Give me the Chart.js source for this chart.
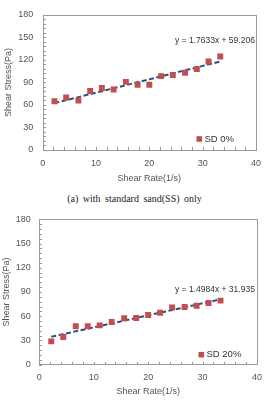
<!DOCTYPE html>
<html>
<head>
<meta charset="utf-8">
<script src="https://cdn.jsdelivr.net/npm/chart.js@4/dist/chart.umd.min.js"></script>
<style>
  html, body { margin:0; padding:0; background:#fff; width:269px; height:400px; overflow:hidden; }
  .wrap { position:absolute; left:0; width:269px; }
  #w1 { top:0; height:190px; }
  #w2 { top:205px; height:195px; }
  #cap { position:absolute; left:0; width:269px; top:193px; text-align:center;
         font-family:"Liberation Serif","Times New Roman",serif; font-size:10px; color:#222; word-spacing:2px; }
</style>
</head>
<body>
<div class="wrap" id="w1"><canvas id="c1" width="269" height="190"></canvas></div>
<div id="cap">(a) with standard sand(SS) only</div>
<div class="wrap" id="w2"><canvas id="c2" width="269" height="195"></canvas></div>
<script>
// ---- data ----
const shearRate = [2.2, 4.4, 6.7, 8.9, 11.1, 13.3, 15.6, 17.8, 20.0, 22.2, 24.4, 26.7, 28.9, 31.1, 33.3];
const stressSD0 = [64.9, 70.0, 66.0, 78.5, 82.7, 80.6, 90.8, 87.0, 87.0, 98.4, 100.0, 103.0, 108.0, 118.0, 124.7];
const stressSD20 = [28.9, 34.3, 47.5, 47.5, 48.7, 52.9, 57.4, 57.8, 61.5, 64.4, 71.0, 71.4, 73.0, 76.3, 79.3];
const trendX = [2.2, 33.3];
const trendSD0 = [62.5, 117.9];
const trendSD20 = [34.6, 80.9];
const xTicks = [0, 10, 20, 30, 40];
const yTicks = [0, 30, 60, 90, 120, 150, 180];
const eqSD0 = 'y = 1.7633x + 59.206';
const eqSD20 = 'y = 1.4984x + 31.935';
const labelSD0 = 'SD 0%';
const labelSD20 = 'SD 20%';

const RED = '#c0504d';
const BLUE = '#2d4f84';
const GREY = '#9a9a9a';
const TXT = '#555555';
const FONT = '"Liberation Sans", Arial, sans-serif';

function makeChart(id, stress, trend, eq, label, L) {
  const framePlugin = {
    id: 'frame',
    beforeDatasetsDraw(chart) {
      const ctx = chart.ctx, a = chart.chartArea;
      ctx.save();
      ctx.strokeStyle = GREY; ctx.lineWidth = 1;
      ctx.strokeRect(Math.round(a.left) + 0.5, Math.round(a.top) + 0.5,
                     Math.round(a.right - a.left), Math.round(a.bottom - a.top));
      const xs = chart.scales.x, ys = chart.scales.y;
      ctx.beginPath();
      xs.ticks.forEach(t => {
        const px = Math.round(xs.getPixelForValue(t.value)) + 0.5;
        ctx.moveTo(px, Math.round(a.bottom)); ctx.lineTo(px, Math.round(a.bottom) - 3);
      });
      ys.ticks.forEach(t => {
        const py = Math.round(ys.getPixelForValue(t.value)) + 0.5;
        ctx.moveTo(Math.round(a.left), py); ctx.lineTo(Math.round(a.left) + 3, py);
      });
      ctx.stroke();
      ctx.restore();
    },
    afterDraw(chart) {
      const ctx = chart.ctx;
      ctx.save();
      ctx.fillStyle = '#333';
      ctx.font = '8.5px ' + FONT;
      ctx.textBaseline = 'middle';
      ctx.textAlign = 'left';
      ctx.fillText(eq, L.eqX, L.eqY);
      ctx.fillStyle = RED;
      ctx.fillRect(L.legX, L.legY - 2.8, 5.6, 5.6);
      ctx.fillStyle = '#333';
      ctx.font = '9.5px ' + FONT;
      ctx.fillText(label, L.legX + 8, L.legY);
      ctx.restore();
    }
  };
  return new Chart(document.getElementById(id), {
    type: 'scatter',
    data: {
      datasets: [
        {
          label: label,
          data: shearRate.map((x, i) => ({ x: x, y: stress[i] })),
          pointStyle: 'rect',
          pointRadius: 4.2,
          pointHoverRadius: 4.2,
          backgroundColor: RED,
          borderColor: RED,
          borderWidth: 0,
          showLine: false
        },
        {
          label: 'trend',
          data: trendX.map((x, i) => ({ x: x, y: trend[i] })),
          showLine: true,
          borderColor: BLUE,
          borderWidth: 2,
          borderDash: [5, 2.5],
          pointRadius: 0,
          fill: false
        }
      ]
    },
    options: {
      responsive: false,
      animation: false,
      events: [],
      layout: { padding: { left: 0, right: L.padR, top: L.padT, bottom: 0 } },
      plugins: { legend: { display: false }, tooltip: { enabled: false } },
      scales: {
        x: {
          type: 'linear', min: 0, max: 40,
          afterFit(s) { s.height = L.xH; },
          grid: { display: false, drawTicks: false },
          border: { display: false },
          ticks: {
            stepSize: 2, autoSkip: false, maxRotation: 0, padding: L.xPad,
            color: TXT, font: { family: FONT, size: 9 },
            callback: v => xTicks.includes(v) ? String(v) : ''
          },
          title: {
            display: true, text: 'Shear Rate(1/s)', color: TXT,
            font: { family: FONT, size: 9 },
            padding: { top: 0, bottom: L.xTitlePad }
          }
        },
        y: {
          type: 'linear', min: 0, max: 180,
          afterFit(s) { s.width = L.yW; },
          grid: { display: false, drawTicks: false },
          border: { display: false },
          ticks: {
            stepSize: 6, autoSkip: false, padding: L.yPad,
            color: TXT, font: { family: FONT, size: 9 },
            callback: v => yTicks.includes(v) ? String(v) : ''
          },
          title: {
            display: true, text: 'Shear Stress(Pa)', color: TXT,
            font: { family: FONT, size: 9 },
            padding: { top: L.yTitlePad, bottom: 0 }
          }
        }
      }
    },
    plugins: [framePlugin]
  });
}

makeChart('c1', stressSD0, trendSD0, eqSD0, labelSD0, {
  padR: 10, padT: 8.3, xH: 40, yW: 42.7, xPad: 8, yPad: 9.5,
  xTitlePad: 5.6, yTitlePad: 3.6,
  eqX: 175, eqY: 41, legX: 196.5, legY: 139
});
makeChart('c2', stressSD20, trendSD20, eqSD20, labelSD20, {
  padR: 7.3, padT: 14.3, xH: 35.3, yW: 39.3, xPad: 7, yPad: 8.6,
  xTitlePad: 2.6, yTitlePad: 1.3,
  eqX: 175, eqY: 85, legX: 198.5, legY: 149.7
});
</script>
</body>
</html>
